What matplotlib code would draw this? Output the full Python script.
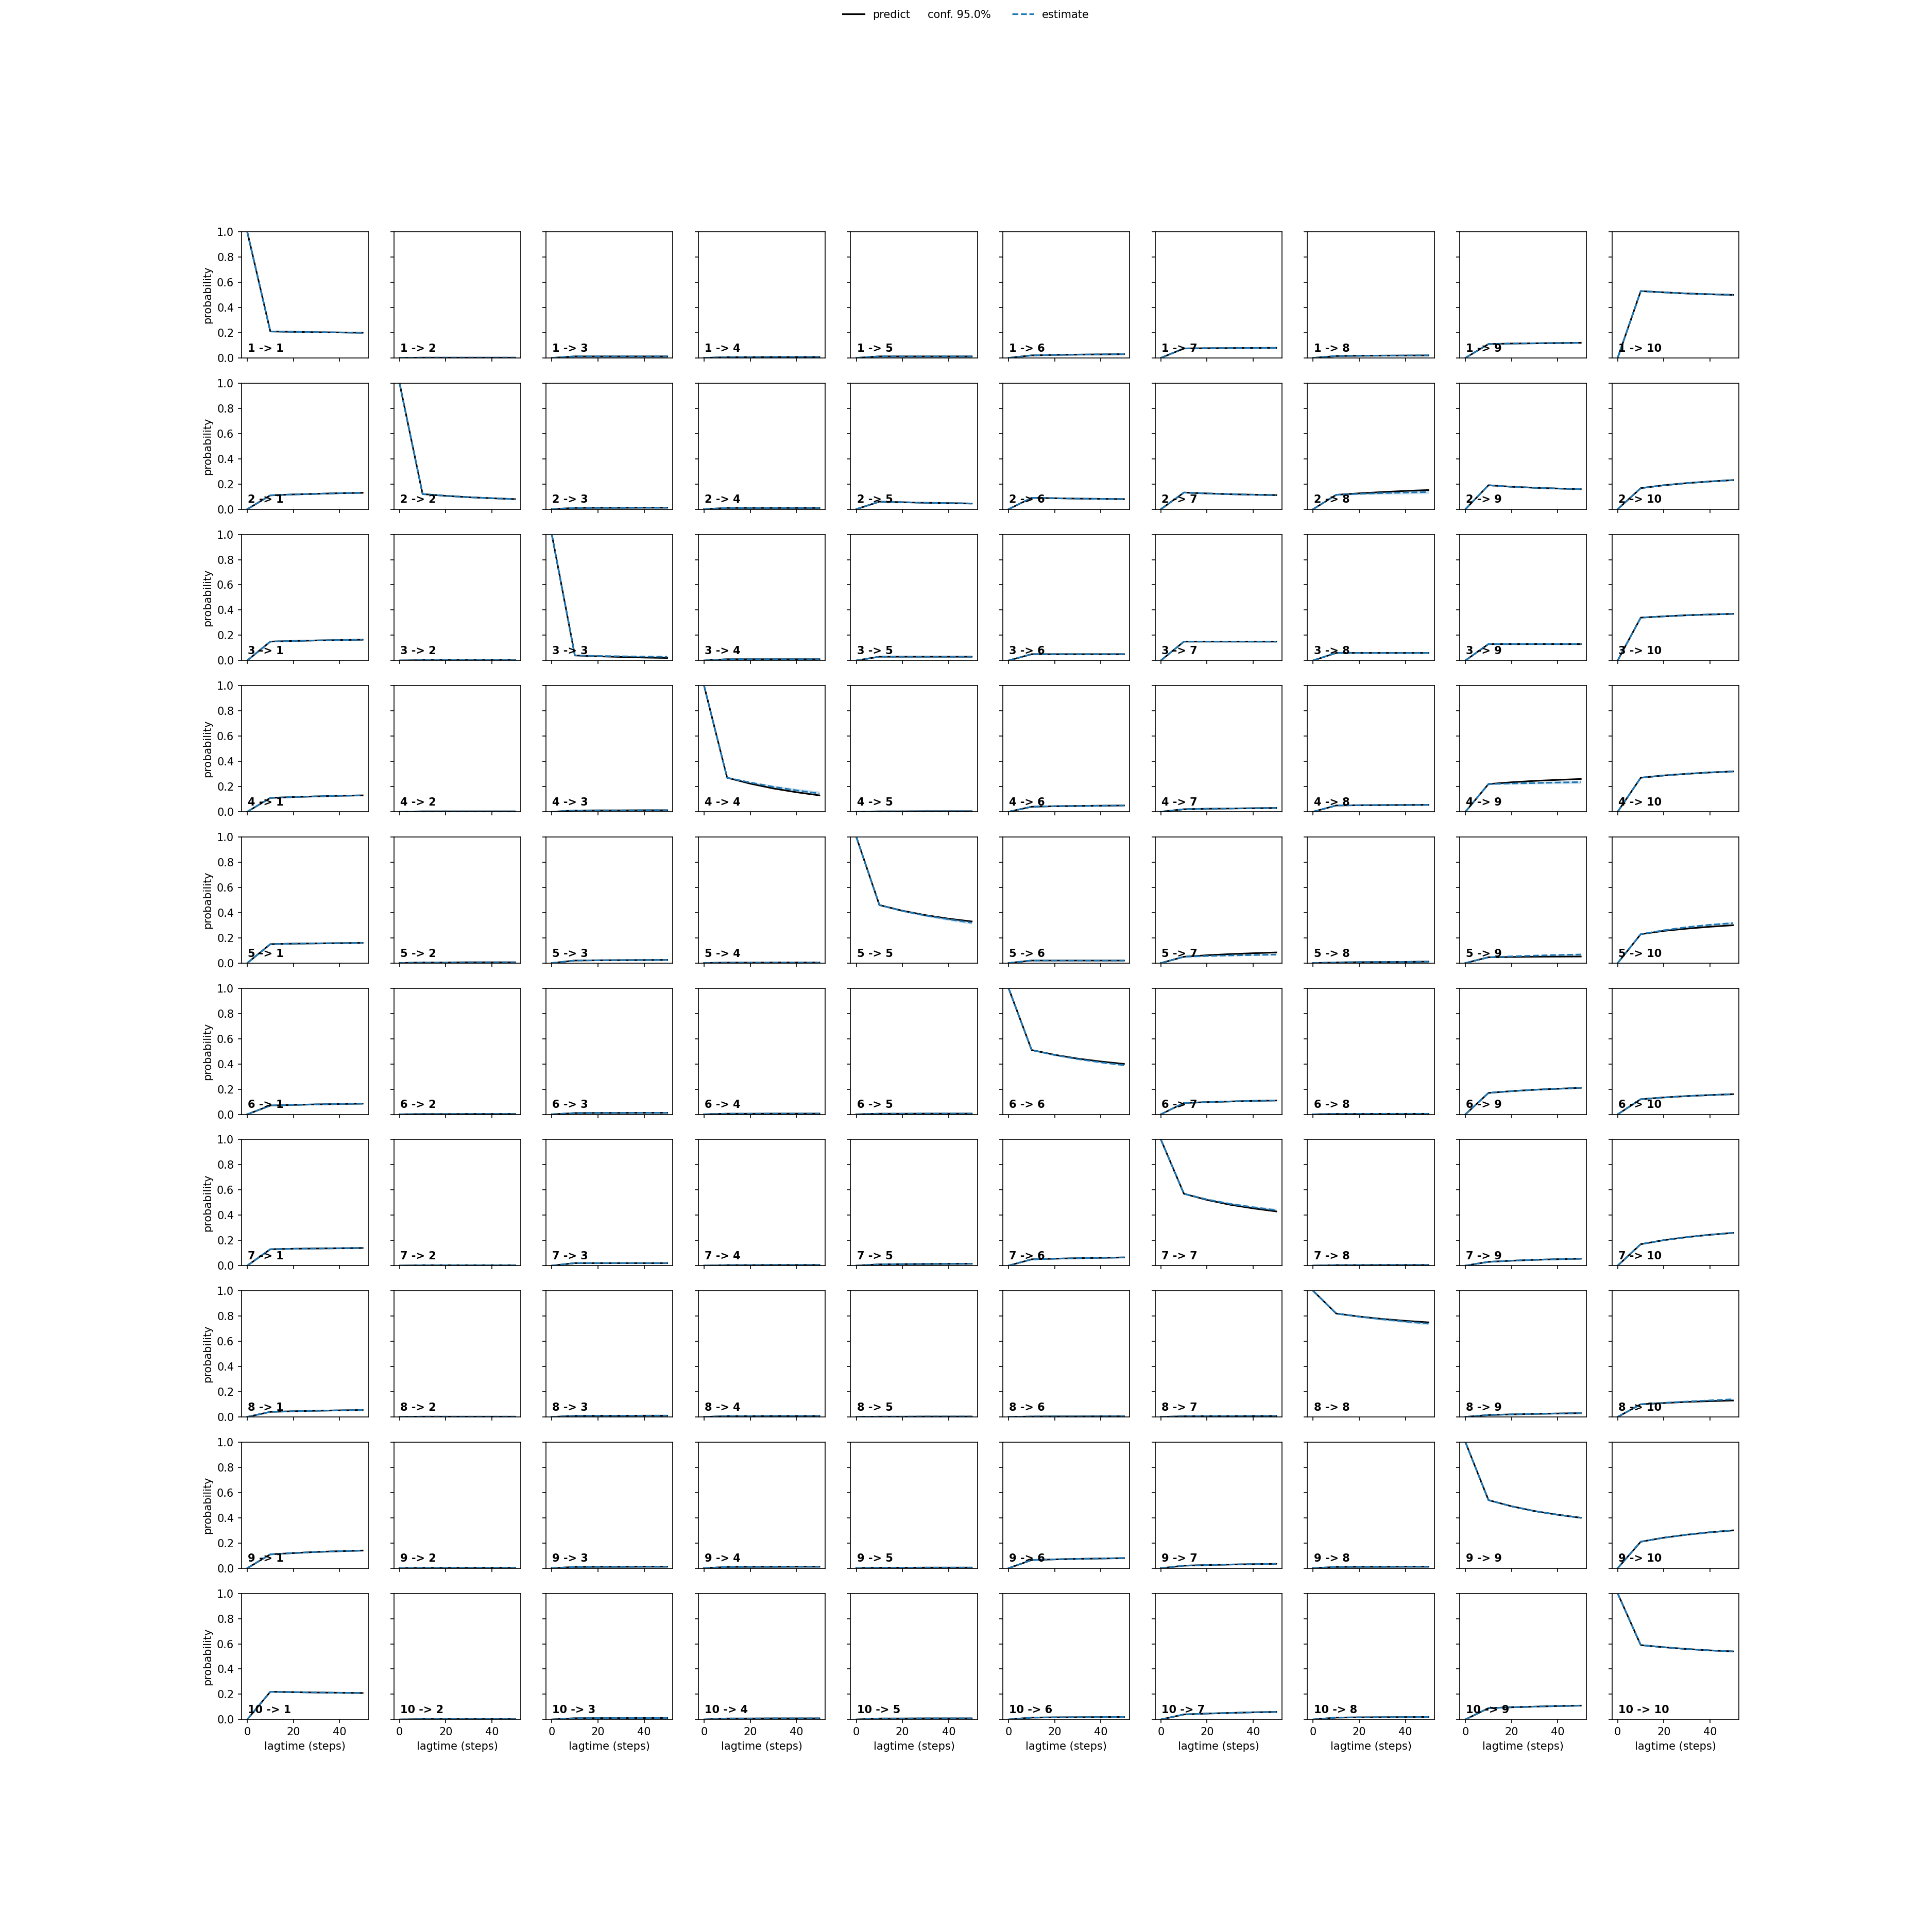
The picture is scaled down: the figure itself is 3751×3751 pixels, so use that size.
import matplotlib
matplotlib.use('Agg')
import matplotlib.pyplot as plt
from matplotlib.patches import Patch
import numpy as np

n_states = 10
lagtimes = [0, 10, 20, 30, 40, 50]

# predicted transition probabilities (row = from state, col = to state), one matrix per lag
pred_lag10 = [
    [0.21, 0.002, 0.012, 0.006, 0.012, 0.02, 0.075, 0.015, 0.11, 0.53],
    [0.11, 0.12, 0.01, 0.01, 0.06, 0.09, 0.132, 0.114, 0.19, 0.167],
    [0.15, 0.003, 0.04, 0.01, 0.03, 0.05, 0.15, 0.06, 0.13, 0.34],
    [0.11, 0.003, 0.01, 0.27, 0.003, 0.04, 0.02, 0.05, 0.22, 0.27],
    [0.15, 0.005, 0.02, 0.004, 0.46, 0.02, 0.05, 0.005, 0.046, 0.229],
    [0.07, 0.002, 0.01, 0.005, 0.005, 0.51, 0.09, 0.003, 0.17, 0.12],
    [0.13, 0.003, 0.02, 0.004, 0.01, 0.05, 0.57, 0.004, 0.03, 0.17],
    [0.04, 0.002, 0.008, 0.006, 0.002, 0.003, 0.005, 0.82, 0.015, 0.10],
    [0.11, 0.002, 0.01, 0.01, 0.004, 0.065, 0.02, 0.01, 0.54, 0.21],
    [0.22, 0.003, 0.01, 0.008, 0.008, 0.015, 0.04, 0.015, 0.09, 0.59],
]
pred_lag20 = [
    [0.207, 0.002, 0.012, 0.006, 0.012, 0.024, 0.077, 0.017, 0.114, 0.52],
    [0.117, 0.106, 0.011, 0.01, 0.055, 0.087, 0.125, 0.126, 0.178, 0.19],
    [0.155, 0.003, 0.033, 0.01, 0.03, 0.05, 0.15, 0.06, 0.13, 0.35],
    [0.117, 0.003, 0.011, 0.223, 0.003, 0.044, 0.024, 0.052, 0.234, 0.288],
    [0.154, 0.005, 0.022, 0.004, 0.415, 0.02, 0.062, 0.007, 0.048, 0.255],
    [0.075, 0.002, 0.011, 0.005, 0.005, 0.472, 0.097, 0.003, 0.184, 0.134],
    [0.134, 0.003, 0.02, 0.004, 0.012, 0.055, 0.521, 0.004, 0.039, 0.202],
    [0.045, 0.002, 0.009, 0.006, 0.002, 0.004, 0.006, 0.796, 0.02, 0.11],
    [0.12, 0.002, 0.011, 0.011, 0.004, 0.07, 0.025, 0.011, 0.491, 0.242],
    [0.217, 0.003, 0.011, 0.008, 0.008, 0.017, 0.047, 0.017, 0.097, 0.573],
]
pred_lag30 = [
    [0.204, 0.002, 0.012, 0.007, 0.012, 0.026, 0.078, 0.018, 0.116, 0.511],
    [0.122, 0.095, 0.011, 0.01, 0.051, 0.084, 0.119, 0.136, 0.17, 0.207],
    [0.159, 0.003, 0.028, 0.01, 0.03, 0.05, 0.15, 0.06, 0.13, 0.359],
    [0.122, 0.003, 0.011, 0.185, 0.004, 0.046, 0.026, 0.053, 0.245, 0.301],
    [0.156, 0.006, 0.023, 0.005, 0.38, 0.02, 0.071, 0.008, 0.05, 0.273],
    [0.079, 0.003, 0.011, 0.006, 0.006, 0.442, 0.102, 0.004, 0.195, 0.145],
    [0.136, 0.003, 0.02, 0.005, 0.013, 0.059, 0.483, 0.005, 0.046, 0.226],
    [0.049, 0.002, 0.009, 0.007, 0.003, 0.004, 0.006, 0.777, 0.024, 0.119],
    [0.129, 0.003, 0.011, 0.011, 0.005, 0.074, 0.029, 0.011, 0.453, 0.266],
    [0.214, 0.003, 0.011, 0.009, 0.009, 0.018, 0.052, 0.018, 0.102, 0.559],
]
pred_lag40 = [
    [0.202, 0.002, 0.012, 0.007, 0.012, 0.028, 0.079, 0.019, 0.118, 0.505],
    [0.127, 0.087, 0.012, 0.01, 0.048, 0.082, 0.115, 0.145, 0.164, 0.22],
    [0.162, 0.003, 0.023, 0.01, 0.03, 0.05, 0.15, 0.06, 0.13, 0.365],
    [0.127, 0.003, 0.012, 0.155, 0.004, 0.048, 0.028, 0.054, 0.253, 0.312],
    [0.158, 0.006, 0.024, 0.005, 0.352, 0.02, 0.078, 0.009, 0.051, 0.288],
    [0.082, 0.003, 0.012, 0.006, 0.006, 0.419, 0.107, 0.004, 0.203, 0.153],
    [0.138, 0.003, 0.02, 0.005, 0.014, 0.062, 0.454, 0.005, 0.051, 0.245],
    [0.052, 0.002, 0.01, 0.007, 0.003, 0.005, 0.007, 0.762, 0.027, 0.125],
    [0.135, 0.003, 0.012, 0.012, 0.005, 0.077, 0.032, 0.012, 0.424, 0.285],
    [0.212, 0.003, 0.012, 0.009, 0.009, 0.019, 0.057, 0.019, 0.107, 0.548],
]
pred_lag50 = [
    [0.20, 0.002, 0.012, 0.007, 0.012, 0.03, 0.08, 0.02, 0.12, 0.50],
    [0.13, 0.08, 0.012, 0.01, 0.045, 0.08, 0.112, 0.152, 0.159, 0.231],
    [0.165, 0.003, 0.02, 0.01, 0.03, 0.05, 0.15, 0.06, 0.13, 0.37],
    [0.13, 0.003, 0.012, 0.13, 0.004, 0.05, 0.03, 0.055, 0.26, 0.32],
    [0.16, 0.006, 0.025, 0.005, 0.33, 0.02, 0.084, 0.012, 0.052, 0.30],
    [0.085, 0.003, 0.012, 0.006, 0.006, 0.40, 0.11, 0.004, 0.21, 0.16],
    [0.14, 0.003, 0.02, 0.005, 0.015, 0.065, 0.43, 0.005, 0.055, 0.26],
    [0.055, 0.002, 0.01, 0.007, 0.003, 0.005, 0.007, 0.75, 0.03, 0.13],
    [0.14, 0.003, 0.012, 0.012, 0.005, 0.08, 0.035, 0.012, 0.40, 0.30],
    [0.21, 0.003, 0.012, 0.009, 0.009, 0.02, 0.06, 0.02, 0.11, 0.54],
]

# estimates that visibly differ from the prediction (1-based from, to)
est_override = {
    (2, 8): [0.0, 0.114, 0.122, 0.128, 0.132, 0.136],
    (3, 3): [1.0, 0.04, 0.036, 0.033, 0.031, 0.03],
    (4, 4): [1.0, 0.27, 0.232, 0.198, 0.17, 0.145],
    (4, 9): [0.0, 0.22, 0.224, 0.228, 0.232, 0.235],
    (5, 5): [1.0, 0.46, 0.413, 0.377, 0.347, 0.32],
    (5, 7): [0.0, 0.05, 0.056, 0.06, 0.064, 0.067],
    (5, 9): [0.0, 0.046, 0.053, 0.059, 0.064, 0.068],
    (5, 10): [0.0, 0.229, 0.26, 0.285, 0.303, 0.317],
    (6, 6): [1.0, 0.51, 0.47, 0.438, 0.412, 0.39],
    (7, 7): [1.0, 0.57, 0.525, 0.49, 0.463, 0.44],
    (8, 8): [1.0, 0.82, 0.795, 0.774, 0.756, 0.74],
    (8, 10): [0.0, 0.10, 0.112, 0.122, 0.131, 0.14],
}
# half width of the 95% confidence band of the estimates
conf_default = [0.0, 0.002, 0.003, 0.004, 0.005, 0.006]
conf_override = {
    (2, 8): [0.0, 0.003, 0.008, 0.011, 0.013, 0.014],
    (4, 4): [0.0, 0.003, 0.008, 0.012, 0.015, 0.018],
    (4, 9): [0.0, 0.003, 0.006, 0.009, 0.011, 0.013],
    (5, 5): [0.0, 0.003, 0.006, 0.009, 0.011, 0.013],
    (5, 10): [0.0, 0.003, 0.005, 0.007, 0.009, 0.01],
    (7, 7): [0.0, 0.003, 0.006, 0.009, 0.011, 0.013],
    (8, 8): [0.0, 0.003, 0.006, 0.008, 0.01, 0.012],
}

pred_mats = [pred_lag10, pred_lag20, pred_lag30, pred_lag40, pred_lag50]

fig, axes = plt.subplots(n_states, n_states, sharex=True, sharey=True, figsize=(25, 25))

for i in range(n_states):
    for j in range(n_states):
        ax = axes[i, j]
        start = 1.0 if i == j else 0.0
        pred = [start] + [m[i][j] for m in pred_mats]
        est = est_override.get((i + 1, j + 1), pred)
        hw = conf_override.get((i + 1, j + 1), conf_default)
        lo = np.clip(np.array(est) - np.array(hw), 0, 1)
        hi = np.clip(np.array(est) + np.array(hw), 0, 1)

        l_pred, = ax.plot(lagtimes, pred, color='black', linestyle='-')
        ax.fill_between(lagtimes, lo, hi, color='C0', alpha=0.2, linewidth=0)
        l_est, = ax.plot(lagtimes, est, color='C0', linestyle='--')

        ax.text(0.05, 0.05, str(i + 1) + ' -> ' + str(j + 1), transform=ax.transAxes, weight='bold')
        ax.set_ylim(0, 1)
        if j == 0:
            ax.set_ylabel('probability')
        if i == n_states - 1:
            ax.set_xlabel('lagtime (steps)')

conf_handle = Patch(facecolor='none', edgecolor='none')
leg = fig.legend([l_pred, conf_handle, l_est], ['predict', 'conf. 95.0%', 'estimate'],
                 loc='upper center', ncol=3, frameon=False)
# the confidence entry has no visible handle, so drop its space
item = leg._legend_handle_box.get_children()[1].get_children()[0]
item.get_children()[0].width = 0
item.sep = -4

fig.savefig('out.png', dpi=150.04)
